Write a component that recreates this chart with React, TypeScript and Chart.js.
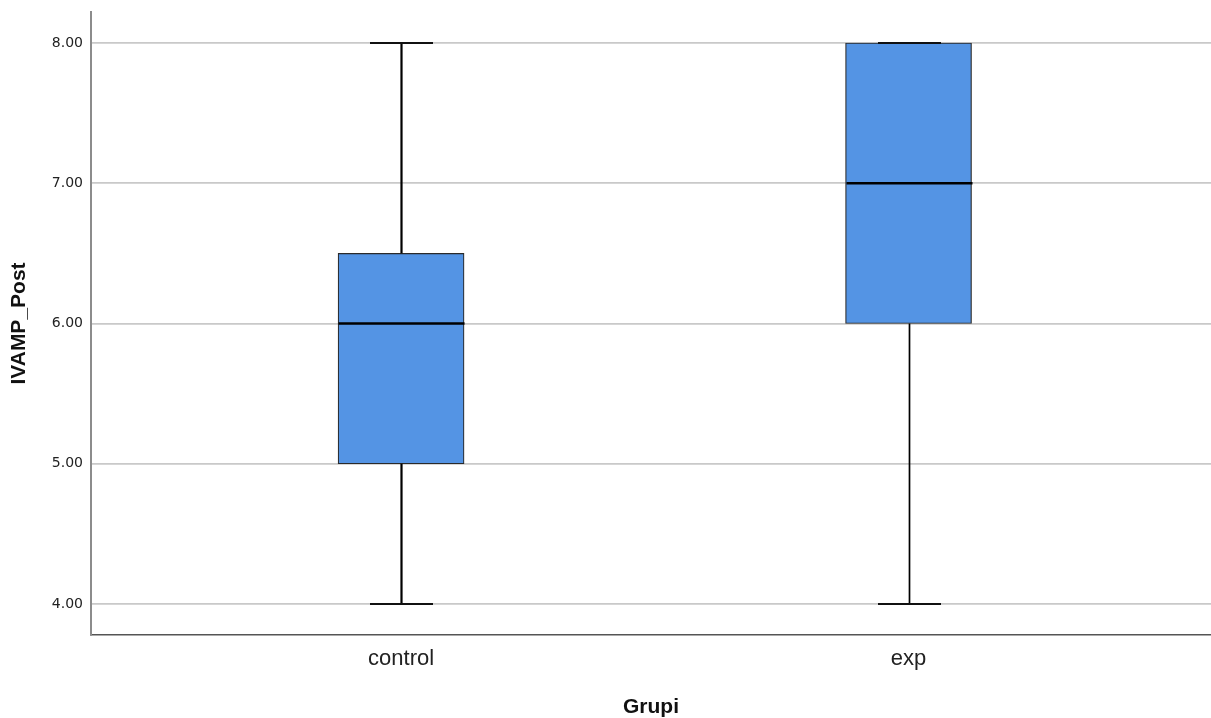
import React, { useEffect, useRef } from "react";
import { Chart, registerables } from "chart.js";

Chart.register(...registerables);

const categories = ["control", "exp"];
const minValues = [4, 4];
const q1Values = [5, 6];
const medianValues = [6, 7];
const q3Values = [6.5, 8];
const maxValues = [8, 8];
const yTicks = [4, 5, 6, 7, 8];

const FONT = 'Arial, "Liberation Sans", sans-serif';
const TICK_FONT = '"DejaVu Sans", Verdana, sans-serif';

const whiskerPlugin = {
  id: "whiskers",
  afterDatasetsDraw(chart: any) {
    const ctx = chart.ctx;
    const xs = chart.scales.x;
    const ys = chart.scales.y;
    const boxW = 126;
    const capW = 63;
    ctx.save();
    ctx.lineCap = "butt";
    categories.forEach((_, i) => {
      const cx = Math.round(xs.getPixelForValue(i + 1)) + 0.5;
      const yMin = ys.getPixelForValue(minValues[i]);
      const yQ1 = ys.getPixelForValue(q1Values[i]);
      const yQ3 = ys.getPixelForValue(q3Values[i]);
      const yMax = ys.getPixelForValue(maxValues[i]);
      const yMed = ys.getPixelForValue(medianValues[i]);
      ctx.strokeStyle = "#000";
      ctx.lineWidth = i === 0 ? 2.2 : 1.7;
      ctx.beginPath();
      ctx.moveTo(cx, yQ3);
      ctx.lineTo(cx, yMax);
      ctx.moveTo(cx, yQ1);
      ctx.lineTo(cx, yMin);
      ctx.stroke();
      ctx.lineWidth = 2.2;
      ctx.strokeStyle = "#111";
      ctx.beginPath();
      ctx.moveTo(cx - capW / 2, yMax);
      ctx.lineTo(cx + capW / 2, yMax);
      ctx.moveTo(cx - capW / 2, yMin);
      ctx.lineTo(cx + capW / 2, yMin);
      ctx.stroke();
      ctx.strokeStyle = "#000";
      ctx.lineWidth = 2.5;
      ctx.beginPath();
      ctx.moveTo(cx - boxW / 2, yMed);
      ctx.lineTo(cx + boxW / 2, yMed);
      ctx.stroke();
    });
    ctx.restore();
  },
};

export default function App() {
  const ref = useRef<HTMLCanvasElement>(null);
  useEffect(() => {
    if (!ref.current) return;
    const chart = new Chart(ref.current, {
      type: "bar",
      data: {
        datasets: [
          {
            data: categories.map((_, i) => ({ x: i + 1, y: [q1Values[i], q3Values[i]] })) as any,
            backgroundColor: "#5494E4",
            borderColor: "#2a2a2a",
            borderWidth: 1.2,
            borderSkipped: false,
            barThickness: 126,
          },
        ],
      },
      options: {
        animation: false,
        responsive: true,
        maintainAspectRatio: false,
        layout: { padding: { top: 12, right: 0, left: 0, bottom: 0 } },
        plugins: { legend: { display: false }, tooltip: { enabled: false } },
        scales: {
          x: {
            type: "linear",
            offset: false,
            min: 0.389,
            max: 2.596,
            afterBuildTicks: (scale: any) => {
              scale.ticks = categories.map((_, i) => ({ value: i + 1 }));
            },
            afterFit: (scale: any) => {
              scale.height = 83;
              scale.paddingLeft = 0;
              scale.paddingRight = 0;
            },
            ticks: {
              callback: (v: any) => categories[Number(v) - 1] ?? "",
              font: { family: FONT, size: 22 },
              color: "#222",
              padding: 11,
              autoSkip: false,
              maxRotation: 0,
            },
            grid: { display: false, drawTicks: false, offset: false },
            border: { display: true, color: "#555", width: 1.5 },
            title: {
              display: true,
              text: "Grupi",
              font: { family: FONT, size: 21, weight: "bold", lineHeight: 1.0 },
              color: "#111",
              padding: { top: 0, bottom: 0 },
            },
          },
          y: {
            min: 3.779,
            max: 8.221,
            afterBuildTicks: (scale: any) => {
              scale.ticks = yTicks.map((v) => ({ value: v }));
            },
            afterFit: (scale: any) => {
              scale.width = 91;
              scale.paddingTop = 0;
              scale.paddingBottom = 0;
            },
            ticks: {
              callback: (v: any) => Number(v).toFixed(2),
              font: { family: TICK_FONT, size: 14 },
              color: "#222",
              padding: 8,
            },
            grid: { color: "#c9c9c9", lineWidth: 1.8, drawTicks: false },
            border: { display: true, color: "#8c8c8c", width: 2 },
            title: {
              display: true,
              text: "IVAMP_Post",
              font: { family: FONT, size: 21, weight: "bold" },
              color: "#111",
              padding: { top: 7, bottom: 0 },
            },
          },
        },
      },
      plugins: [whiskerPlugin],
    });
    return () => chart.destroy();
  }, []);
  return (
    <div style={{ position: "fixed", left: 0, top: 0, width: 1211, height: 718, background: "#fff" }}>
      <canvas ref={ref} />
    </div>
  );
}
